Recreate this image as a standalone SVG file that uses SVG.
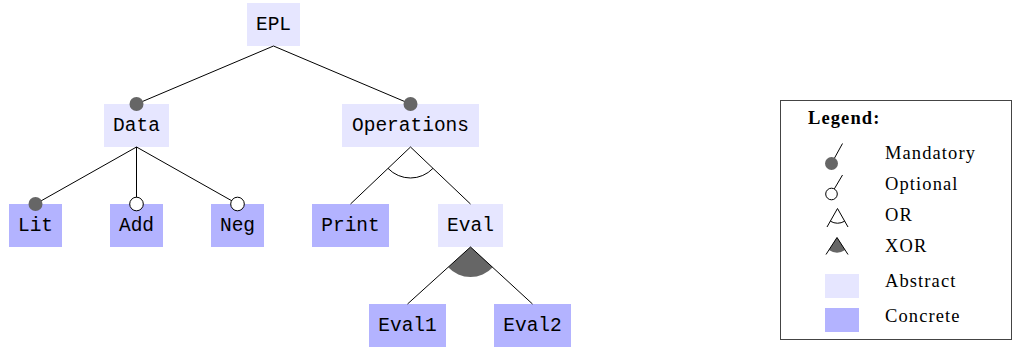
<svg xmlns="http://www.w3.org/2000/svg" width="1018" height="351" viewBox="0 0 1018 351">
  <style>
    .abstract { fill: #e6e6ff; }
    .concrete { fill: #b3b3ff; }
    .label { font-family: "Liberation Mono", "DejaVu Sans Mono", monospace; font-size: 19.5px; fill: #000; text-anchor: middle; }
    .edge { stroke: #000; stroke-width: 1; fill: none; }
    .mand { fill: #666666; }
    .opt { fill: #ffffff; stroke: #000; stroke-width: 1; }
    .group { fill: #666666; stroke: none; }
    .legtext { font-family: "Liberation Serif", "Times New Roman", serif; font-size: 18.5px; letter-spacing: 1.1px; fill: #000; }
  </style>

  <!-- feature nodes -->
  <g id="EPL">
    <rect class="abstract" x="247" y="3" width="53" height="43"/>
    <text class="label" x="273.5" y="30">EPL</text>
  </g>
  <g id="Data">
    <rect class="abstract" x="104" y="104" width="65" height="43"/>
    <text class="label" x="136.5" y="131">Data</text>
  </g>
  <g id="Operations">
    <rect class="abstract" x="342" y="104" width="137" height="43"/>
    <text class="label" x="410.5" y="131">Operations</text>
  </g>
  <g id="Lit">
    <rect class="concrete" x="9" y="204" width="53" height="43"/>
    <text class="label" x="35.5" y="231">Lit</text>
  </g>
  <g id="Add">
    <rect class="concrete" x="110" y="204" width="53" height="43"/>
    <text class="label" x="136.5" y="231">Add</text>
  </g>
  <g id="Neg">
    <rect class="concrete" x="211" y="204" width="53" height="43"/>
    <text class="label" x="237.5" y="231">Neg</text>
  </g>
  <g id="Print">
    <rect class="concrete" x="312" y="204" width="77" height="43"/>
    <text class="label" x="350.5" y="231">Print</text>
  </g>
  <g id="Eval">
    <rect class="abstract" x="438" y="204" width="65" height="43"/>
    <text class="label" x="470.5" y="231">Eval</text>
  </g>
  <g id="Eval1">
    <rect class="concrete" x="369" y="304" width="77" height="43"/>
    <text class="label" x="407.5" y="331">Eval1</text>
  </g>
  <g id="Eval2">
    <rect class="concrete" x="494" y="304" width="77" height="43"/>
    <text class="label" x="532.5" y="331">Eval2</text>
  </g>

  <!-- connectors, drawn over the node boxes so the end dots stay visible -->
  <g id="connectors">
    <line class="edge" x1="273.5" y1="46" x2="136.5" y2="104"/>
    <line class="edge" x1="273.5" y1="46" x2="410.5" y2="104"/>
    <line class="edge" x1="136.5" y1="147" x2="35.5" y2="204"/>
    <line class="edge" x1="136.5" y1="147" x2="136.5" y2="204"/>
    <line class="edge" x1="136.5" y1="147" x2="237.5" y2="204"/>
    <line class="edge" x1="410.5" y1="147" x2="350.5" y2="204"/>
    <line class="edge" x1="410.5" y1="147" x2="470.5" y2="204"/>
    <path class="edge" d="M388.03,168.35 A31,31 0 0 0 432.97,168.35"/>
    <path class="group" d="M470.5,247 L448.25,267.13 A30,30 0 0 0 492.75,267.13 Z"/>
    <line class="edge" x1="470.5" y1="247" x2="407.5" y2="304"/>
    <line class="edge" x1="470.5" y1="247" x2="532.5" y2="304"/>
    <circle class="mand" cx="136.5" cy="104" r="7"/>
    <circle class="mand" cx="410.5" cy="104" r="7"/>
    <circle class="mand" cx="35.5" cy="204" r="7"/>
    <circle class="opt" cx="136.5" cy="204" r="6.8"/>
    <circle class="opt" cx="237.5" cy="204" r="6.8"/>
  </g>

  <!-- legend -->
  <g id="legend">
    <rect x="780.5" y="100.5" width="231" height="239" fill="#ffffff" stroke="#444444" stroke-width="1"/>
    <text class="legtext" x="808" y="124" font-weight="bold">Legend:</text>

    <line class="edge" x1="831.5" y1="163.5" x2="842.5" y2="143.5"/>
    <circle class="mand" cx="831.5" cy="163.5" r="6.5"/>
    <text class="legtext" x="885" y="158.5">Mandatory</text>

    <line class="edge" x1="834.3" y1="188.9" x2="842.5" y2="175"/>
    <circle class="opt" cx="831.5" cy="194" r="5.8"/>
    <text class="legtext" x="885" y="190">Optional</text>

    <line class="edge" x1="837.5" y1="208.5" x2="827" y2="227"/>
    <line class="edge" x1="837.5" y1="208.5" x2="848" y2="227"/>
    <path class="edge" d="M830.3,221.2 A14.6,14.6 0 0 0 844.7,221.2"/>
    <text class="legtext" x="885" y="221">OR</text>

    <path class="group" d="M837,237.5 L828.85,250.1 A15,15 0 0 0 845.15,250.1 Z"/>
    <line class="edge" x1="837" y1="237.5" x2="826" y2="254.5"/>
    <line class="edge" x1="837" y1="237.5" x2="848" y2="254.5"/>
    <text class="legtext" x="885" y="252">XOR</text>

    <rect class="abstract" x="825" y="274" width="34" height="24"/>
    <text class="legtext" x="885" y="287">Abstract</text>

    <rect class="concrete" x="825" y="308" width="34" height="24"/>
    <text class="legtext" x="885" y="321.5">Concrete</text>
  </g>
</svg>
